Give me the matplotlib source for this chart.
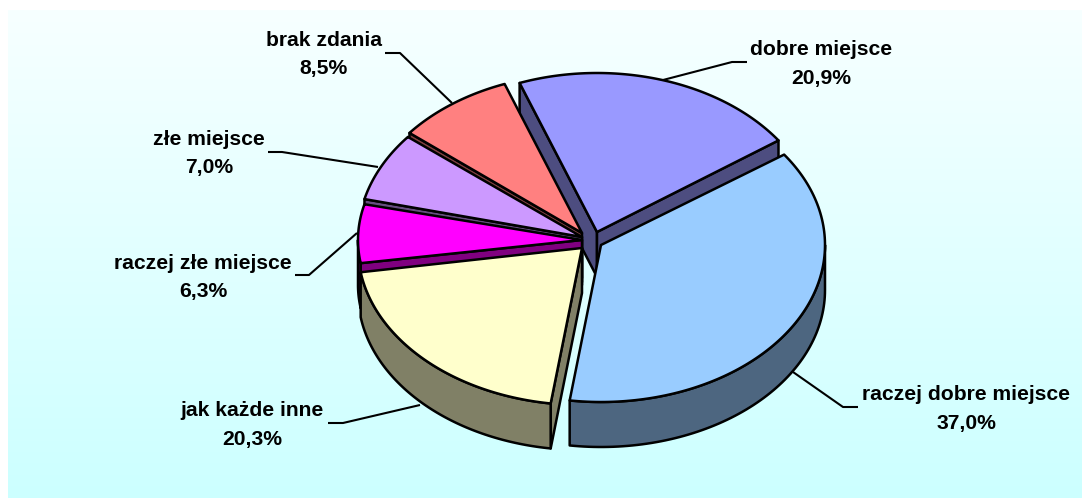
import matplotlib
matplotlib.use("Agg")
import matplotlib.pyplot as plt
import numpy as np

categories = ["dobre miejsce", "raczej dobre miejsce", "jak każde inne",
              "raczej złe miejsce", "złe miejsce", "brak zdania"]
shares = [20.9, 37.0, 20.3, 6.3, 7.0, 8.5]
share_labels = ["20,9%", "37,0%", "20,3%", "6,3%", "7,0%", "8,5%"]

top_colors = ["#9999FF", "#99CCFF", "#FFFFCC", "#FF00FF", "#CC99FF", "#FF8080"]
side_colors = ["#4D4D80", "#4D6680", "#808066", "#800080", "#664D80", "#804040"]

# where each exploded slice has its tip, in pixels
tips = [(597, 232), (601, 245), (582, 248), (582, 240), (582, 237), (582, 233)]
radii = [(222, 159), (224, 157), (224, 157), (224, 150), (224, 159), (222, 159)]
draw_order = [0, 5, 4, 3, 2, 1]

START_ANGLE = -20.4
DEPTH = 45

label_pos = [(821, 64), (966, 409), (252, 425), (203, 277.5), (209, 153.5), (324, 54.5)]
leaders = [
    [(747, 62), (732, 62), (663, 80)],
    [(858, 407), (843, 407), (793, 372)],
    [(328, 423), (343, 423), (420, 405)],
    [(295, 275), (309, 275), (357, 233)],
    [(268, 152), (282, 152), (378, 167)],
    [(385, 53), (400, 53), (452, 103)],
]

W, H = 1086, 498
fig = plt.figure(figsize=(W / 100, H / 100), dpi=100, facecolor="white")
ax = fig.add_axes([0, 0, 1, 1])
ax.axis("off")

# background gradient panel
grad = np.linspace(0, 1, 256).reshape(-1, 1)
top_rgb = np.array([0xF7, 0xFF, 0xFF]) / 255
bot_rgb = np.array([0xCC, 0xFF, 0xFF]) / 255
img = top_rgb + (bot_rgb - top_rgb) * grad[..., None]
ax.imshow(img, extent=(8, 1082, 498, 10), aspect="auto", zorder=0)
ax.set_xlim(0, W)
ax.set_ylim(H, 0)


def ellipse_pts(tip, radius, t):
    x = tip[0] + radius[0] * np.sin(np.radians(t))
    y = tip[1] - radius[1] * np.cos(np.radians(t))
    return x, y


def poly(xs, ys, color, z):
    ax.fill(xs, ys, facecolor=color, edgecolor="black", linewidth=1.8,
            joinstyle="round", zorder=z)


edges = START_ANGLE + np.cumsum([0] + shares) * 3.6
z = 2
for i in draw_order:
    t0, t1 = edges[i], edges[i + 1]
    tip, radius = tips[i], radii[i]
    top, side = top_colors[i], side_colors[i]
    # cut faces, only those turned towards the viewer
    for t, visible in ((t0, np.sin(np.radians(t0)) < 0), (t1, np.sin(np.radians(t1)) > 0)):
        if visible:
            ex, ey = ellipse_pts(tip, radius, t)
            poly([tip[0], ex, ex, tip[0]], [tip[1], ey, ey + DEPTH, tip[1] + DEPTH], side, z)
    # outer wall, only the front half can be seen
    lo, hi = max(t0, 90), min(t1, 270)
    if hi > lo:
        tt = np.linspace(lo, hi, 80)
        wx, wy = ellipse_pts(tip, radius, tt)
        poly(np.r_[wx, wx[::-1]], np.r_[wy, wy[::-1] + DEPTH], side, z)
    tt = np.linspace(t0, t1, 120)
    ax_x, ax_y = ellipse_pts(tip, radius, tt)
    poly(np.r_[tip[0], ax_x], np.r_[tip[1], ax_y], top, z)
    z += 1

for pts in leaders:
    xs, ys = zip(*pts)
    ax.plot(xs, ys, color="black", linewidth=1.5, zorder=1,
            solid_capstyle="butt")

for name, pct, (x, y) in zip(categories, share_labels, label_pos):
    ax.text(x, y, f"{name}\n{pct}", ha="center", va="center", fontsize=15.2,
            fontweight="bold", family="Liberation Sans", linespacing=1.62,
            color="black", zorder=20)

fig.savefig("out.png", dpi=100)
